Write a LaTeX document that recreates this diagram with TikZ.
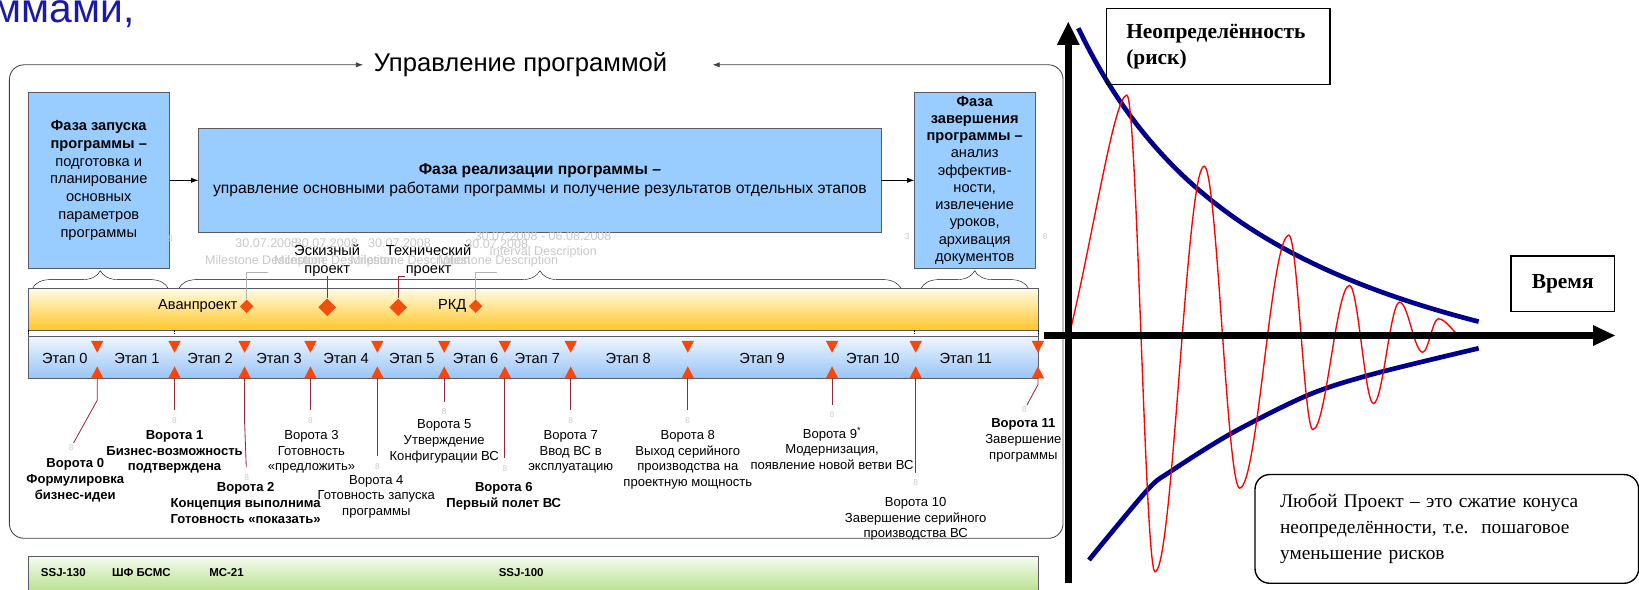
\documentclass[tikz,border=0pt]{standalone}
\usepackage{fontspec}
\setmainfont{Liberation Sans}
\newfontfamily\timesrm{Liberation Serif}
\usetikzlibrary{shapes.geometric,decorations.pathreplacing,arrows.meta}

\definecolor{slideblue}{RGB}{26,26,166}
\definecolor{phaseblue}{RGB}{153,204,255}
\definecolor{edgegray}{RGB}{90,90,100}
\definecolor{ghostgray}{RGB}{200,200,200}
\definecolor{gatered}{RGB}{250,70,10}
\definecolor{linkred}{RGB}{150,40,60}
\definecolor{mileorange}{RGB}{240,80,15}
\definecolor{barlight}{RGB}{255,251,228}
\definecolor{bargold}{RGB}{255,198,40}
\definecolor{etaplight}{RGB}{238,246,255}
\definecolor{etapblue}{RGB}{152,196,246}
\definecolor{greenlight}{RGB}{246,251,240}
\definecolor{greenbar}{RGB}{160,214,100}
\definecolor{conenavy}{RGB}{0,0,140}

\newcommand{\sizeto}[2]{\fontsize{#1}{#2}\selectfont}

\begin{document}
\begin{tikzpicture}[x=1pt,y=-1pt,
  phase/.style={draw=edgegray,fill=phaseblue,align=center,font=\sizeto{14}{17}},
  gatelbl/.style={anchor=north,align=center,font=\sizeto{12.5}{15}},
  gatebold/.style={gatelbl,font=\sizeto{12.5}{15}\bfseries},
  ghost/.style={text=ghostgray,anchor=west,font=\sizeto{12}{13}},
  tick/.style={text=ghostgray,outer ysep=7pt,font=\sizeto{8}{9}},
  etap/.style={font=\sizeto{14}{16}},
  barlbl/.style={font=\sizeto{14}{17},align=center},
  milestone/.style={diamond,fill=mileorange,minimum size=#1},
  milestone/.default=13,
  link/.style={draw=linkred,line width=0.8pt},
  lead/.style={draw=black!30,line width=0.8pt},
  flow/.style={line width=0.8pt,-{Latex[length=7pt,width=5pt]}},
  cone/.style={draw=conenavy,line width=4.5pt},
  axis/.style={line width=7pt},
  plate/.style={draw,line width=1.3pt,font=\timesrm\sizeto{20.5}{24.5}\bfseries}]
\tikzstyle{every node}+=[inner sep=0pt]
\useasboundingbox (0,0) rectangle (1568,564);

\node[anchor=base east,text=slideblue,font=\sizeto{39}{40}] (heading) at (129,22) {программами,};

% frame of the programme
\node[font=\sizeto{24.5}{26}] (title) at (498,62) {Управление программой};
\draw[black!75,line width=0.8pt,{Latex[length=7pt,width=5pt]}-{Latex[length=7pt,width=5pt]},rounded corners=14] ([xshift=-10]title.west) -- (9,62) -- (9,515) -- (1017,515) -- (1017,62) -- ([xshift=43]title.east);

\node[phase,minimum width=135,minimum height=168] (launch) at (94.5,172.5) {\textbf{Фаза запуска}\\\textbf{программы –}\\подготовка и\\планирование\\основных\\параметров\\программы};
\node[phase,minimum width=653,minimum height=100,font=\sizeto{15}{18}] (realize) at (516.5,172.5) {\textbf{Фаза реализации программы –}\\управление основными работами программы и получение результатов отдельных этапов};
\node[phase,minimum width=115,minimum height=168,font=\sizeto{14}{16.5}] (closing) at (932.5,172.5) {\textbf{Фаза}\\\textbf{завершения}\\\textbf{программы –}\\анализ\\эффектив-\\ности,\\извлечение\\уроков,\\архивация\\документов};
\draw[flow] (launch) -- (realize);
\draw[flow] (realize) -- (closing);

% faint labels left by the planner
\node[ghost] (date1) at (225,233) {30.07.2008};
\node[ghost] (date2) at (282,233) {30.07.2008};
\node[ghost] (date3) at (352,233) {30.07.2008};
\node[ghost] (date4) at (445,234) {30.07.2008};
\node[ghost] (span1) at (454,226) {30.07.2008 - 06.08.2008};
\node[ghost] (desc1) at (196,250) {Milestone Description};
\node[ghost] (desc2) at (262,250) {Milestone Description};
\node[ghost] (desc3) at (335,250) {Milestone Description};
\node[ghost] (desc4) at (419,250) {Milestone Description};
\node[ghost] (span1desc) at (468,241) {Interval Description};
\node[tick] (stray1) at (163,228) {8};
\node[tick] (stray2) at (868,226) {3};
\node[tick] (stray3) at (1000,226) {8};

\draw[decorate,decoration={brace,amplitude=17}] (31,276) -- (161,276);
\draw[decorate,decoration={brace,amplitude=17}] (171,276) -- (862,276);
\draw[decorate,decoration={brace,amplitude=17}] (881,276) -- (984,276);

% bars
\draw[edgegray,top color=barlight,bottom color=bargold] (27,276) rectangle (993,316);
\draw[edgegray] (27,316) rectangle (993,322);
\foreach \x in {27,167,875,993}
  \draw[black,dash pattern=on 1.5pt off 1pt] (\x,316) -- (\x,322);
\draw[edgegray,top color=etaplight,bottom color=etapblue] (27,322) rectangle (993,362);

% milestones
\node[milestone] (avan) at (236,293) {};
\node[barlbl,anchor=east] (avanlbl) at ([xshift=-2]avan.west) {Аванпроект};
\node[milestone=17] (sketch) at (313,294) {};
\node[milestone=17] (tech) at (381,294) {};
\node[milestone] (rkd) at (455,293) {};
\node[barlbl,anchor=east] (rkdlbl) at ([xshift=-2]rkd.west) {РКД};
\node[barlbl] (sketchlbl) at (313,249) {Эскизный\\проект};
\node[barlbl] (techlbl) at (410,249) {Технический\\проект};
\coordinate (avanend) at (256,261);
\coordinate (rkdend) at (475,261);
\draw[lead] (avan.north) |- (avanend);
\draw[lead] (rkd.north) |- (rkdend);
\draw[link] (sketch.north) -- (sketch.north |- sketchlbl.south);
\draw[link] (tech.north) |- ([xshift=-23]techlbl.south);

% stages and gates
\foreach \x/\n in {62/0,131/1,201/2,267/3,331/4,394/5,455/6,514/7,601/8,729/9,835/10,924/11}
  \node[etap] (etap\n) at (\x,343) {Этап \n};
\foreach \x [count=\i from 0] in {93,167,234,297,361,425,483,546,658,796,876,993} {
  \fill[gatered] (\x-6,326) -- (\x+6,326) -- (\x,337.5) -- cycle;
  \fill[gatered] (\x-6,362) -- (\x+6,362) -- (\x,350.5) -- cycle;
  \coordinate (gate\i) at (\x,362);
}

\node[tick] (mark0) at (68,428) {8};
\draw[link] (gate0) -- (93,383) -- (mark0);
\node[gatebold] (gate0lbl) at (72,438.5) {Ворота 0\\Формулировка\\бизнес-идеи};
\node[tick] (mark1) at (167,402) {8};
\draw[link] (gate1) -- (mark1);
\node[gatebold] (gate1lbl) at (167,411.5) {Ворота 1\\Бизнес-возможность\\подтверждена};
\node[tick] (mark2) at (236,457) {8};
\draw[link] (gate2) -- (234,404) -- (mark2);
\node[gatebold] (gate2lbl) at (235,461.5) {Ворота 2\\Концепция выполнима\\Готовность «показать»};
\node[tick] (mark3) at (297,402) {8};
\draw[link] (gate3) -- (mark3);
\node[gatelbl] (gate3lbl) at (298,411.5) {Ворота 3\\Готовность\\«предложить»};
\node[tick] (mark4) at (361,446) {8};
\draw[link] (gate4) -- (mark4);
\node[gatelbl] (gate4lbl) at (360,454.5) {Ворота 4\\Готовность запуска\\программы};
\node[tick] (mark5) at (425,394) {8};
\draw[link] (gate5) -- (mark5);
\node[gatelbl] (gate5lbl) at (425,401.5) {Ворота 5\\Утверждение\\Конфигурации ВС};
\node[tick] (mark6) at (483,448) {8};
\draw[link] (gate6) -- (mark6);
\node[gatebold] (gate6lbl) at (482,461.5) {Ворота 6\\Первый полет ВС};
\node[tick] (mark7) at (546,402) {8};
\draw[link] (gate7) -- (mark7);
\node[gatelbl] (gate7lbl) at (546,411.5) {Ворота 7\\Ввод ВС в\\эксплуатацию};
\node[tick] (mark8) at (658,402) {8};
\draw[link] (gate8) -- (mark8);
\node[gatelbl] (gate8lbl) at (658,411.5) {Ворота 8\\Выход серийного\\производства на\\проектную мощность};
\node[tick] (mark9) at (796,397) {8};
\draw[link] (gate9) -- (mark9);
\node[gatelbl] (gate9lbl) at (796,408.5) {Ворота 9\textsuperscript{*}\\Модернизация,\\появление новой ветви ВС};
\node[tick] (mark10) at (876,462) {8};
\draw[link] (gate10) -- (mark10);
\node[gatelbl] (gate10lbl) at (876,475.5) {Ворота 10\\Завершение серийного\\производства ВС};
\node[tick] (mark11) at (980,392) {8};
\draw[link] (gate11) -- (993,368) -- (mark11);
\node[gatelbl] (gate11lbl) at (979,400.5) {\textbf{Ворота 11}\\Завершение\\программы};

% aircraft bar
\draw[edgegray,top color=greenlight,bottom color=greenbar] (27,532) rectangle (993,580);
\node[anchor=west,font=\sizeto{11}{12}\bfseries] (ssj130) at (39,548) {SSJ-130};
\node[anchor=west,font=\sizeto{11}{12}\bfseries] (shf) at (107,548) {ШФ БСМС};
\node[anchor=west,font=\sizeto{11}{12}\bfseries] (mc21) at (200,548) {МС-21};
\node[anchor=west,font=\sizeto{11}{12}\bfseries] (ssj100) at (477,548) {SSJ-100};

% cone of uncertainty
\draw[cone] plot[domain=1031.6:1414.6,samples=70] (\x,{459.1-892.75/((\x-825)/100)});
\draw[cone] plot[smooth] coordinates {(1041.8,535.7) (1097.6,468.8) (1119.6,451.2) (1178.2,414.5) (1251.5,377.9) (1313.8,357.8) (1414.6,333.2)};
\draw[red,line width=1.3pt] (1023,320) .. controls (1045,230) and (1066,91) .. (1078,91)
  .. controls +(9.7,0) and +(-9.7,0) .. (1105,547)
  .. controls +(17,0) and +(-17,0) .. (1152,159)
  .. controls +(12.2,0) and +(-12.2,0) .. (1186,467)
  .. controls +(17,0) and +(-17,0) .. (1233,225)
  .. controls +(8.3,0) and +(-8.3,0) .. (1256,411)
  .. controls +(12.6,0) and +(-12.6,0) .. (1291,273)
  .. controls +(8.3,0) and +(-8.3,0) .. (1314,386)
  .. controls +(9,0) and +(-9,0) .. (1339,289)
  .. controls +(7.9,0) and +(-7.9,0) .. (1361,337)
  .. controls +(5.4,0) and +(-5.4,0) .. (1376,305)
  .. controls (1382,305) and (1388,314) .. (1395,321);
\draw[axis] (1022,558) -- (1022,42);
\fill (1011,43) -- (1033,43) -- (1022,21) -- cycle;
\draw[axis] (999,321) -- (1525,321);
\fill (1524,311) -- (1524,331) -- (1545,321) -- cycle;

\node[plate,align=left,text width=176,inner xsep=19,minimum height=73] (riskbox) at (1165.5,44.5) {Неопределённость\\(риск)};
\node[plate,minimum width=99,minimum height=53] (timebox) at (1495,271.5) {Время};
\node[draw,line width=1.3pt,rounded corners=14,anchor=west,minimum width=367,minimum height=104,text width=319,inner xsep=24,align=left,font=\timesrm\sizeto{18.5}{24.8}] (summary) at (1200,506) {Любой Проект – это сжатие конуса\\неопределённости, т.е.\ \ пошаговое\\уменьшение рисков};
\end{tikzpicture}
\end{document}
